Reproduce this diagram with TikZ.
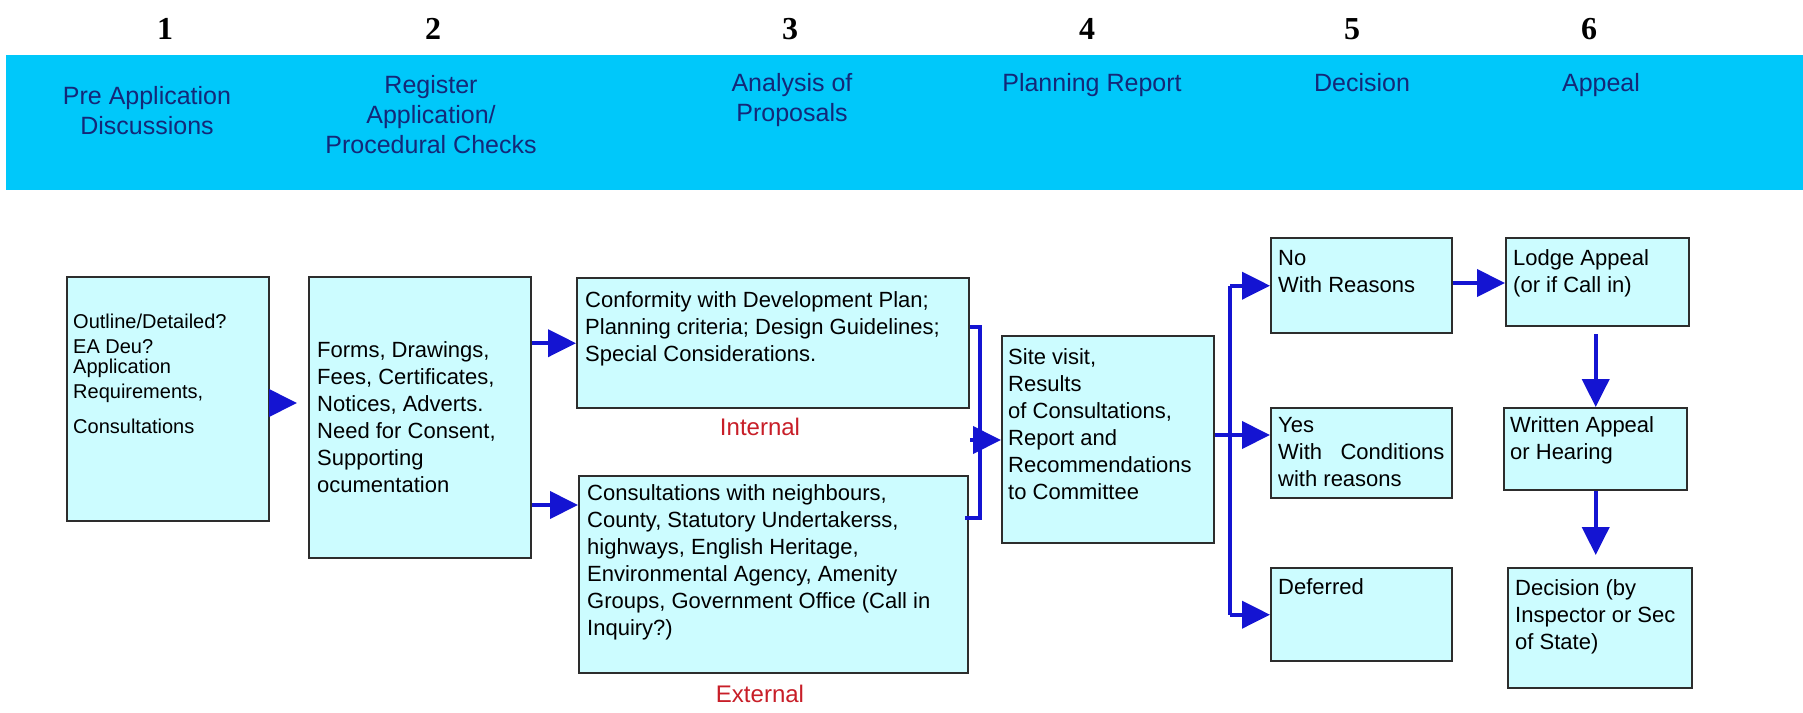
\documentclass[tikz,border=0pt]{standalone}
\usepackage{fontspec}
\setmainfont{Liberation Sans}
\newfontfamily\numfont{Liberation Serif}
\usetikzlibrary{arrows.meta}
\definecolor{banner}{RGB}{0,200,250}
\definecolor{bannertext}{RGB}{20,40,120}
\definecolor{boxfill}{RGB}{204,252,255}
\definecolor{boxline}{RGB}{45,45,45}
\definecolor{arrblue}{RGB}{20,20,210}
\definecolor{labred}{RGB}{200,30,40}
\newcommand\bxfont{\fontsize{22}{27}\selectfont}
\newcommand\smfont{\fontsize{20}{25}\selectfont}
\newcommand\bnfont{\fontsize{25}{30}\selectfont}
\tikzset{
  box/.style={draw=boxline, fill=boxfill, line width=2.4pt, inner sep=0pt, anchor=north west},
  txt/.style={anchor=north west, inner sep=0pt, align=left, font=\bxfont, text=black},
  btxt/.style={anchor=north, inner sep=0pt, align=center, font=\bnfont, text=bannertext},
  num/.style={anchor=base, inner sep=0pt, font=\numfont\bfseries\fontsize{32}{36}\selectfont},
  lab/.style={anchor=base, inner sep=0pt, font=\fontsize{24}{27}\selectfont, text=labred},
  conn/.style={draw=arrblue, line width=4pt},
  arr/.style={conn, -{Triangle[length=28pt,width=27pt]}},
}
\begin{document}
\begin{tikzpicture}[x=1pt,y=-1pt]
\useasboundingbox (0,0) rectangle (1803,712);
\fill[white] (0,0) rectangle (1803,712);
% banner
\node[fill=banner, inner sep=0pt, minimum width=1797pt, minimum height=135pt, anchor=north west] (ban) at (6,55) {};
\node[num] (n1) at (165,39) {1};
\node[num] (n2) at (433,39) {2};
\node[num] (n3) at (790,39) {3};
\node[num] (n4) at (1087,39) {4};
\node[num] (n5) at (1352,39) {5};
\node[num] (n6) at (1589,39) {6};
\node[btxt] (h1) at (147,83) {\strut Pre Application\\Discussions};
\node[btxt] (h2) at (431,72) {\strut Register\\Application/\\Procedural Checks};
\node[btxt] (h3) at (792,70) {\strut Analysis of\\Proposals};
\node[btxt] (h4) at (1092,70) {\strut Planning Report};
\node[btxt] (h5) at (1362,70) {\strut Decision};
\node[btxt] (h6) at (1601,70) {\strut Appeal};
% boxes
\node[box, minimum width=202pt, minimum height=244pt] (A) at (66,276) {};
\node[box, minimum width=222pt, minimum height=281pt] (B) at (308,276) {};
\node[box, minimum width=392pt, minimum height=130pt] (C) at (576,277) {};
\node[box, minimum width=389pt, minimum height=197pt] (D) at (578,475) {};
\node[box, minimum width=212pt, minimum height=207pt] (E) at (1001,335) {};
\node[box, minimum width=181pt, minimum height=95pt] (F) at (1270,237) {};
\node[box, minimum width=181pt, minimum height=90pt] (G) at (1270,407) {};
\node[box, minimum width=181pt, minimum height=93pt] (H) at (1270,567) {};
\node[box, minimum width=183pt, minimum height=88pt] (I) at (1505,237) {};
\node[box, minimum width=183pt, minimum height=82pt] (J) at (1503,407) {};
\node[box, minimum width=184pt, minimum height=120pt] (K) at (1507,567) {};
% texts
\node[txt, font=\smfont] (tA) at (73,310.5) {\strut Outline/Detailed?\\EA Deu?\\[-5pt]Application\\Requirements,\\[10pt]Consultations};
\node[txt] (tB) at (317,338) {\strut Forms, Drawings,\\Fees, Certificates,\\Notices, Adverts.\\Need for Consent,\\Supporting\\ocumentation};
\node[txt] (tC) at (585,288) {\strut Conformity with Development Plan;\\Planning criteria; Design Guidelines;\\Special Considerations.};
\node[txt] (tD) at (587,481) {\strut Consultations with neighbours,\\County, Statutory Undertakerss,\\highways, English Heritage,\\Environmental Agency, Amenity\\Groups, Government Office (Call in\\Inquiry?)};
\node[txt] (tE) at (1008,345) {\strut Site visit,\\Results\\of Consultations,\\Report and\\Recommendations\\to Committee};
\node[txt] (tF) at (1278,246) {\strut No\\With Reasons};
\node[txt] (tG) at (1278,413) {\strut Yes\\With \ \ Conditions\\with reasons};
\node[txt] (tH) at (1278,575) {\strut Deferred};
\node[txt] (tI) at (1513,246) {\strut Lodge Appeal\\(or if Call in)};
\node[txt] (tJ) at (1510,413) {\strut Written Appeal\\or Hearing};
\node[txt] (tK) at (1515,576) {\strut Decision (by\\Inspector or Sec\\of State)};
\node[lab] (lint) at (760,435) {Internal};
\node[lab] (lext) at (760,702) {External};
% helper coordinates
\coordinate (yab) at (0,403);
\coordinate (ybd) at (0,505);
\coordinate (yc) at (0,327);
\coordinate (yd) at (0,518);
\coordinate (br) at (980,0);
\coordinate (brin) at (970,440);
\coordinate (tr) at (1230,0);
\coordinate (yeg) at (0,435);
\coordinate (yfi) at (0,283);
% connectors
\draw[arr, shorten >=11pt] (A.east |- yab) -- (B.west |- yab);
\draw[arr] (B.east |- C.west) -- (C.west);
\draw[arr] (B.east |- ybd) -- (D.west |- ybd);
\draw[conn, line width=3.5pt] (C.east |- yc) -- (br |- yc) -- (br |- yd) -- ([xshift=-4pt]D.east |- yd);
\draw[arr] (brin) -- (E.west |- brin);
\draw[conn] (F.west -| tr) -- (H.west -| tr);
\draw[arr] (F.west -| tr) -- (F.west);
\draw[arr] (H.west -| tr) -- (H.west);
\draw[arr] (E.east |- yeg) -- (G.west |- yeg);
\draw[arr] (F.east |- yfi) -- (I.west |- yfi);
\draw[arr, shorten <=7pt] (I.south -| J.north) -- (J.north);
\draw[arr, shorten >=12pt] (J.south) -- (J.south |- K.north);
\end{tikzpicture}
\end{document}
